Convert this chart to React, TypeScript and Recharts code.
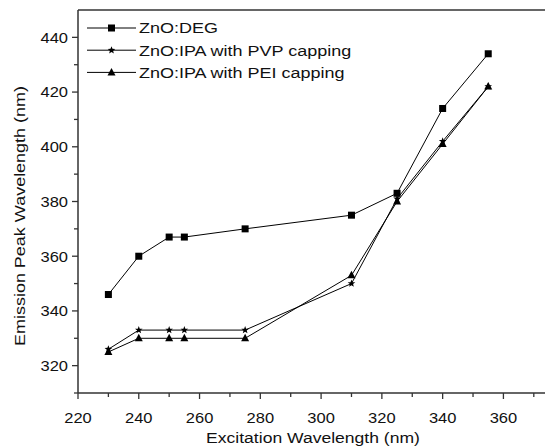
import React from 'react'
import { LineChart, Line, XAxis, YAxis, Legend, ReferenceLine } from 'recharts'

const excitation = [230, 240, 250, 255, 275, 310, 325, 340, 355]
const degValues = [346, 360, 367, 367, 370, 375, 383, 414, 434]
const pvpValues = [326, 333, 333, 333, 333, 350, 381, 402, 422]
const peiValues = [325, 330, 330, 330, 330, 353, 380, 401, 422]

const xTicks = [220, 230, 240, 250, 260, 270, 280, 290, 300, 310, 320, 330, 340, 350, 360, 370]
const yTicks = [310, 320, 330, 340, 350, 360, 370, 380, 390, 400, 410, 420, 430, 440, 450]

const SERIES = [
  { key: 'deg', label: 'ZnO:DEG', marker: 'square' },
  { key: 'pvp', label: 'ZnO:IPA with PVP capping', marker: 'star' },
  { key: 'pei', label: 'ZnO:IPA with PEI capping', marker: 'triangle' },
] as const

const data = excitation.map((x, i) => ({
  x,
  deg: degValues[i],
  pvp: pvpValues[i],
  pei: peiValues[i],
}))

const FONT = 'Liberation Sans, Arial, sans-serif'
const AXIS = '#333'
const TEXT = '#111'

// wide Helvetica-like text: scale the glyphs horizontally
function WideText({ x, y, anchor = 'start', rotate = 0, stretch = 1.2, children }: any) {
  return (
    <text
      transform={`translate(${x},${y}) rotate(${rotate}) scale(${stretch},1)`}
      textAnchor={anchor}
      fontSize={15}
      fontFamily={FONT}
      fill={TEXT}
    >
      {children}
    </text>
  )
}

function starPath(cx: number, cy: number, r: number) {
  const pts: string[] = []
  for (let i = 0; i < 10; i++) {
    const rr = i % 2 === 0 ? r : r * 0.42
    const a = -Math.PI / 2 + (i * Math.PI) / 5
    pts.push(`${cx + rr * Math.cos(a)},${cy + rr * Math.sin(a)}`)
  }
  return `M${pts.join('L')}Z`
}

function Marker({ type, cx, cy }: { type: string; cx: number; cy: number }) {
  if (type === 'square') return <rect x={cx - 3.5} y={cy - 3.5} width={7} height={7} fill="#000" />
  if (type === 'star') return <path d={starPath(cx, cy, 4)} fill="#000" />
  return <path d={`M${cx},${cy - 4.5}L${cx + 4},${cy + 3}L${cx - 4},${cy + 3}Z`} fill="#000" />
}

const makeDot = (type: string) => (props: any) => {
  const { cx, cy, index } = props
  if (cx == null || cy == null) return <g key={index} />
  return <Marker key={index} type={type} cx={cx} cy={cy} />
}

const XTick = (props: any) => {
  const { x, y, payload } = props
  const major = payload.value % 20 === 0 && payload.value <= 360
  return (
    <g>
      <line x1={x} x2={x} y1={y} y2={y + (major ? 6 : 4)} stroke={AXIS} strokeWidth={1.3} />
      {major && <WideText x={x} y={y + 30} anchor="middle" stretch={1.1}>{payload.value}</WideText>}
    </g>
  )
}

const YTick = (props: any) => {
  const { x, y, payload } = props
  const major = payload.value % 20 === 0 && payload.value >= 320 && payload.value <= 440
  if (payload.value === 450) return <g />
  return (
    <g>
      <line x1={x} x2={x - (major ? 6 : 4)} y1={y} y2={y} stroke={AXIS} strokeWidth={1.3} />
      {major && <WideText x={x - 10} y={y + 5.3} anchor="end" stretch={1.1}>{payload.value}</WideText>}
    </g>
  )
}

const XTitle = () => <WideText x={313} y={443} anchor="middle" stretch={1.17}>Excitation Wavelength (nm)</WideText>
const YTitle = () => <WideText x={25} y={216} anchor="middle" rotate={-90}>Emission Peak Wavelength (nm)</WideText>

const LegendBox = () => (
  <svg width={320} height={70}>
    {SERIES.map((s, i) => {
      const y = 9 + i * 22.2
      return (
        <g key={s.key}>
          <line x1={0} x2={49} y1={y} y2={y} stroke="#000" strokeWidth={1} />
          <Marker type={s.marker} cx={24.5} cy={y} />
          <WideText x={52} y={y + 5.3}>{s.label}</WideText>
        </g>
      )
    })}
  </svg>
)

export default function App() {
  return (
    <div style={{ position: 'absolute', left: 0, top: 0, width: 545, height: 446, overflow: 'hidden', background: '#fff' }}>
      <LineChart width={560} height={446} data={data} margin={{ top: 10, right: 11, bottom: 0, left: 0 }}>
        <XAxis
          dataKey="x"
          type="number"
          domain={[220, 375]}
          ticks={xTicks}
          interval={0}
          tick={<XTick />}
          tickLine={false}
          tickSize={0}
          tickMargin={0}
          height={53}
          axisLine={{ stroke: AXIS, strokeWidth: 1.5 }}
          label={{ content: <XTitle /> }}
        />
        <YAxis
          type="number"
          domain={[310, 450]}
          ticks={yTicks}
          interval={0}
          tick={<YTick />}
          tickLine={false}
          tickSize={0}
          tickMargin={0}
          width={78}
          axisLine={{ stroke: AXIS, strokeWidth: 1.5 }}
          label={{ content: <YTitle /> }}
        />
        <ReferenceLine y={450} stroke={AXIS} strokeWidth={1.5} />
        <Legend
          layout="horizontal"
          verticalAlign="middle"
          align="center"
          content={<LegendBox />}
          wrapperStyle={{ position: 'absolute', left: 87, top: 19, width: 320, height: 70 }}
        />
        {SERIES.map((s) => (
          <Line
            key={s.key}
            dataKey={s.key}
            stroke="#000"
            strokeWidth={1}
            dot={makeDot(s.marker)}
            activeDot={false}
            isAnimationActive={false}
          />
        ))}
      </LineChart>
    </div>
  )
}
